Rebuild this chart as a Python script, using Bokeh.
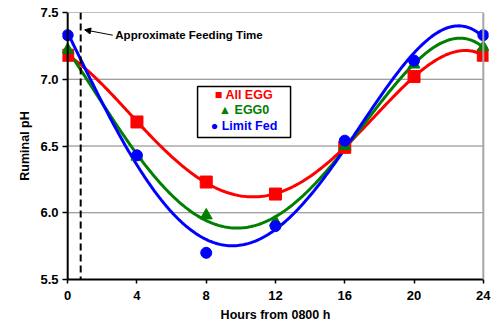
import numpy as np
from bokeh.plotting import figure
from bokeh.models import (Range1d, FixedTicker, Span, Label, Arrow, NormalHead,
                          BoxAnnotation, NumeralTickFormatter)
from bokeh.embed import file_html
from bokeh.resources import INLINE

# ---- data ----
hours = [0, 4, 8, 12, 16, 20, 24]
all_egg = [7.18, 6.68, 6.23, 6.14, 6.49, 7.02, 7.18]
egg0 = [7.22, 6.42, 5.98, 5.93, 6.50, 7.11, 7.24]
limit_fed = [7.33, 6.43, 5.70, 5.90, 6.54, 7.14, 7.33]
series_names = ["All EGG", "EGG0", "Limit Fed"]
x_ticks = [0, 4, 8, 12, 16, 20, 24]
y_ticks = [5.5, 6.0, 6.5, 7.0, 7.5]
feeding_time = 0.75
annotation_text = "Approximate Feeding Time"

FONT = "Liberation Sans"
pad = 0.3

p = figure(width=496, height=327,
           x_range=Range1d(x_ticks[0] - pad, x_ticks[-1] + pad),
           y_range=Range1d(y_ticks[0], y_ticks[-1]),
           output_backend="svg", toolbar_location=None,
           min_border_left=62, min_border_right=8,
           min_border_top=12, min_border_bottom=48)
p.outline_line_color = None
p.xgrid.visible = False
p.ygrid.visible = False

# gridlines limited to the data area
p.segment(x0=x_ticks[0], x1=x_ticks[-1], y0=y_ticks[1:], y1=y_ticks[1:],
          line_color="#7f7f7f", line_width=1)
p.add_layout(Span(location=x_ticks[-1], dimension="height",
                  line_color="#a6a6a6", line_width=2))

# feeding time line
p.add_layout(Span(location=feeding_time, dimension="height",
                  line_color="black", line_width=2, line_dash="7 4"))

# axes
p.xaxis.ticker = FixedTicker(ticks=x_ticks)
p.xaxis.bounds = (x_ticks[0], x_ticks[-1])
p.xaxis.axis_line_width = 2
p.xaxis.axis_line_color = "black"
p.xaxis.major_tick_out = 4
p.xaxis.major_tick_in = 0
p.xaxis.major_tick_line_width = 1.5
p.xaxis.minor_tick_line_color = None
p.xaxis.major_label_standoff = 7
p.xaxis.axis_label = "Hours from 0800 h"
p.xaxis.axis_label_standoff = 5

p.yaxis.ticker = FixedTicker(ticks=y_ticks)
p.yaxis.formatter = NumeralTickFormatter(format="0.0")
p.yaxis.axis_line_color = None
p.yaxis.major_tick_out = 0
p.yaxis.major_tick_in = 5
p.yaxis.major_tick_line_width = 1.5
p.yaxis.minor_tick_line_color = None
p.yaxis.major_label_standoff = 4
p.yaxis.axis_label = "Ruminal pH"
p.yaxis.axis_label_standoff = 5
p.add_layout(Span(location=x_ticks[0], dimension="height",
                  line_color="black", line_width=2))

for ax in (p.xaxis, p.yaxis):
    ax.major_label_text_font = FONT
    ax.major_label_text_font_style = "bold"
    ax.major_label_text_font_size = "13px"
    ax.major_label_text_color = "black"
    ax.axis_label_text_font = FONT
    ax.axis_label_text_font_style = "bold"
    ax.axis_label_text_font_size = "12.5px"
    ax.axis_label_text_color = "black"

# series: polynomial trend + markers
colors = ["#ff0000", "#008000", "#0000ff"]
markers = ["square", "triangle", "circle"]
sizes = [12, 12, 11]
xs = np.linspace(x_ticks[0], x_ticks[-1], 241)
for vals, c in zip([all_egg, egg0, limit_fed], colors):
    coef = np.polyfit(hours, vals, 4)
    p.line(xs, np.polyval(coef, xs), line_color=c, line_width=3)
for vals, c, m, s in zip([all_egg, egg0, limit_fed], colors, markers, sizes):
    p.scatter(hours, vals, marker=m, size=s, fill_color=c, line_color=c)

# annotation
p.add_layout(Arrow(x_start=2.6, y_start=7.33, x_end=0.98, y_end=7.37,
                   line_color="black", line_width=1,
                   end=NormalHead(size=6, fill_color="black", line_color="black")))
p.add_layout(Label(x=2.75, y=7.33, text=annotation_text, text_font=FONT,
                   text_font_style="bold", text_font_size="11.5px",
                   text_baseline="middle", text_align="left", text_color="black"))

# legend (manual, centred entries with coloured text)
p.add_layout(BoxAnnotation(left=7.5, right=12.87, bottom=6.564, top=6.946,
                           fill_color="white", fill_alpha=1.0,
                           line_color="black", line_width=1.5, line_alpha=1.0))
symbols = ["\u25a0", "\u25b2", "\u25cf"]
for i, (name, c, sym) in enumerate(zip(series_names, colors, symbols)):
    p.add_layout(Label(x=10.18, y=6.884 - i * 0.118, text=f"{sym} {name}",
                       text_font=FONT, text_font_style="bold",
                       text_font_size="12.5px", text_color=c,
                       text_align="center", text_baseline="middle"))

open("out.html", "w").write(file_html(p, INLINE))
